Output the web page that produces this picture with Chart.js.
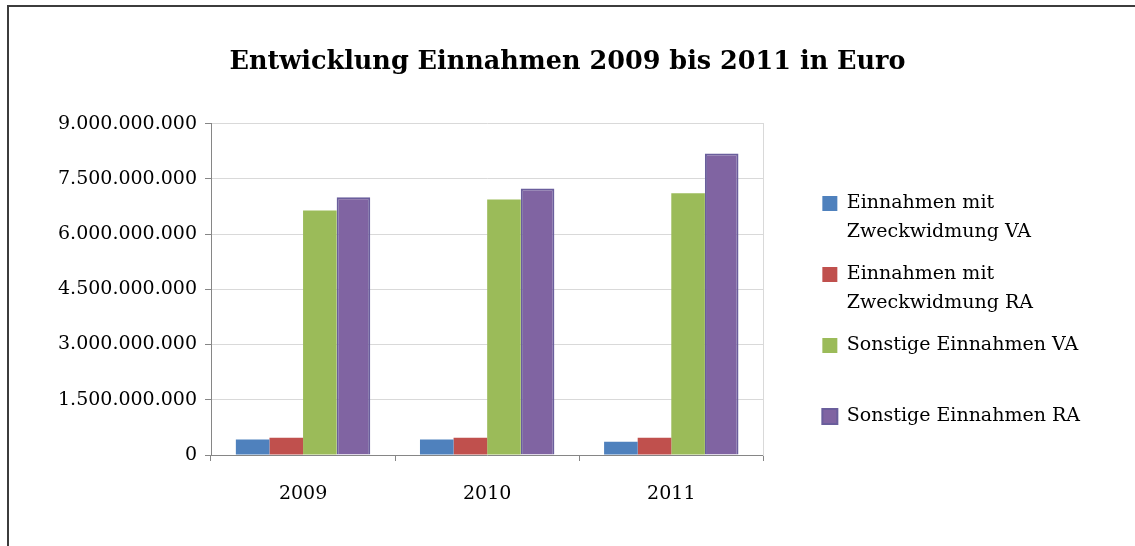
<!DOCTYPE html>
<html lang="de">
<head>
<meta charset="utf-8">
<title>Entwicklung Einnahmen 2009 bis 2011 in Euro</title>
<script src="https://cdn.jsdelivr.net/npm/chart.js@4.4.1/dist/chart.umd.min.js"></script>
<style>
  html, body { margin: 0; padding: 0; background: #fff; overflow: hidden; }
  #frame { position: absolute; left: 7px; top: 5px; width: 1300px; height: 700px;
           border-top: 2px solid #3c3c3c; border-left: 2px solid #3c3c3c; }
  #chartBox { position: absolute; left: 0; top: 0; width: 1135px; height: 546px; }
</style>
</head>
<body>
<div id="frame"></div>
<div id="chartBox"><canvas id="einnahmenChart" width="1135" height="546"></canvas></div>
<script>
const years = ['2009', '2010', '2011'];
const seriesNames = [
  'Einnahmen mit Zweckwidmung VA',
  'Einnahmen mit Zweckwidmung RA',
  'Sonstige Einnahmen VA',
  'Sonstige Einnahmen RA'
];
const zweckVA = [420000000, 420000000, 360000000];
const zweckRA = [470000000, 470000000, 470000000];
const sonstigeVA = [6640000000, 6940000000, 7110000000];
const sonstigeRA = [7000000000, 7240000000, 8190000000];
const yMin = 0;
const yMax = 9000000000;
const yStep = 1500000000;

const serif = 'DejaVu Serif';

// 9000000000 -> 9.000.000.000
function formatDe(v) {
  return String(Math.round(v)).replace(/\B(?=(\d{3})+(?!\d))/g, '.');
}

// Legende wie im Original umbrechen ("... mit" / "Zweckwidmung ...")
function legendLines(name, i) {
  const lines = name.replace(' Zweck', '\nZweck').split('\n');
  if (lines.length < 2 && i < seriesNames.length - 1) lines.push('');
  return lines;
}

const ctx = document.getElementById('einnahmenChart');

new Chart(ctx, {
  type: 'bar',
  data: {
    labels: years,
    datasets: [
      { label: seriesNames[0], data: zweckVA, backgroundColor: '#4F81BD', borderWidth: 0 },
      { label: seriesNames[1], data: zweckRA, backgroundColor: '#C0504D', borderWidth: 0 },
      { label: seriesNames[2], data: sonstigeVA, backgroundColor: '#9BBB59', borderWidth: 0 },
      { label: seriesNames[3], data: sonstigeRA, backgroundColor: '#8064A2', borderColor: '#6A5E9C', borderWidth: 2 }
    ]
  },
  options: {
    responsive: false,
    animation: false,
    devicePixelRatio: 1,
    categoryPercentage: 0.73,
    barPercentage: 1.0,
    layout: { padding: { left: 45, right: 45, top: 0, bottom: 0 } },
    scales: {
      x: {
        grid: { drawOnChartArea: false, tickLength: 6, tickColor: '#868686' },
        border: { color: '#868686' },
        ticks: { color: '#000', padding: 22, font: { family: serif, size: 19 } },
        afterFit(scale) { scale.height = 91; }
      },
      y: {
        min: yMin,
        max: yMax,
        ticks: {
          stepSize: yStep,
          color: '#000',
          padding: 8,
          font: { family: serif, size: 19 },
          callback: (v) => formatDe(v)
        },
        grid: { color: '#D9D9D9', tickLength: 6, tickColor: '#868686' },
        border: { color: '#868686' },
        afterFit(scale) { scale.width = 166; }
      },
      // rechter Rand der Zeichenfläche + Abstand zur Legende
      yRight: {
        position: 'right',
        min: yMin,
        max: yMax,
        grid: { display: false },
        ticks: { display: false },
        border: { color: '#D9D9D9' },
        afterFit(scale) { scale.width = 45; }
      }
    },
    plugins: {
      title: {
        display: true,
        text: 'Entwicklung Einnahmen 2009 bis 2011 in Euro',
        color: '#000',
        font: { family: serif, size: 25.5, weight: 'bold', lineHeight: 1.2 },
        padding: { top: 47, bottom: 46 }
      },
      legend: {
        position: 'right',
        align: 'start',
        maxWidth: 400,
        title: { display: true, text: ' ', font: { size: 10, lineHeight: 1 }, padding: { top: 170, bottom: 0 } },
        labels: {
          boxWidth: 15,
          boxHeight: 15,
          padding: 14,
          color: '#000',
          font: { family: serif, size: 19, lineHeight: 1.5 },
          generateLabels(chart) {
            const items = Chart.defaults.plugins.legend.labels.generateLabels(chart);
            return items.map((item, i) => {
              item.text = legendLines(seriesNames[i], i);
              return item;
            });
          }
        }
      },
      tooltip: {
        callbacks: {
          label: (c) => `${c.dataset.label}: ${formatDe(c.raw)}`
        }
      }
    }
  }
});
</script>
</body>
</html>
